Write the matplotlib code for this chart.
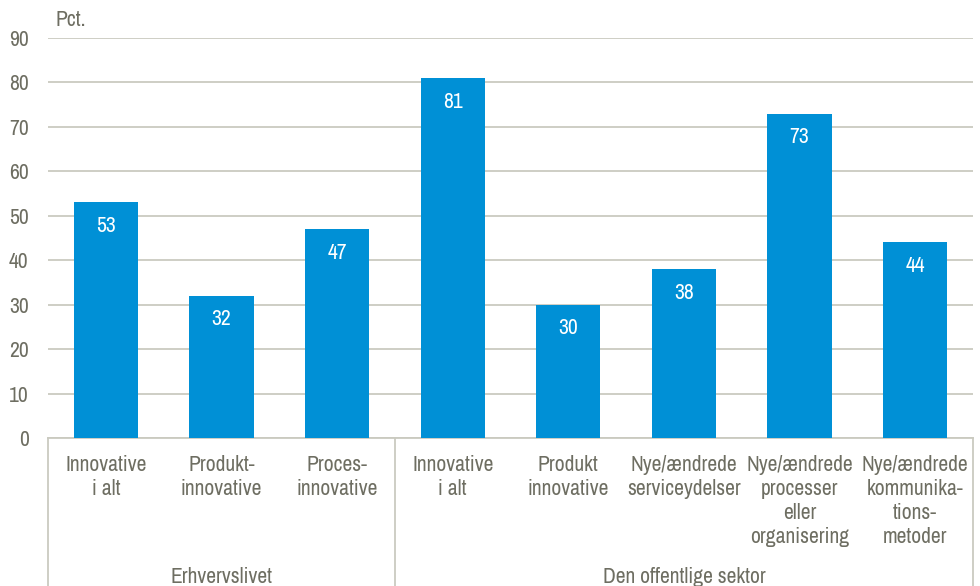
import matplotlib.pyplot as plt
from matplotlib.transforms import blended_transform_factory

# innovation shares, business sector vs public sector
labels = ['Innovative\ni alt', 'Produkt-\ninnovative', 'Proces-\ninnovative',
          'Innovative\ni alt', 'Produkt\ninnovative', 'Nye/ændrede\nserviceydelser',
          'Nye/ændrede\nprocesser\neller\norganisering',
          'Nye/ændrede\nkommunika-\ntions-\nmetoder']
values = [53, 32, 47, 81, 30, 38, 73, 44]
groups = ['Erhvervslivet', 'Den offentlige sektor']
group_sizes = [3, 5]

plt.rcParams['font.family'] = ['Archivo Narrow', 'Liberation Sans', 'DejaVu Sans']

bar_color = '#0090D6'
text_color = '#6E6E62'
grid_color = '#CACAC0'
fs = 15.5

fig = plt.figure(figsize=(9.8, 5.86), dpi=100)
ax = fig.add_axes([48 / 980, 148 / 586, 925 / 980, 400 / 586])

x = list(range(len(values)))
ax.bar(x, values, width=0.555, color=bar_color, zorder=3)
for xi, v in zip(x, values):
    ax.annotate(str(v), (xi, v), xytext=(0, -17), textcoords='offset points',
                ha='center', va='center', color='white', fontsize=fs, zorder=4)

ax.set_xlim(-0.5, len(values) - 0.5)
ax.set_ylim(0, 90)
ax.set_yticks(range(0, 91, 10))
ax.yaxis.grid(True, color=grid_color, linewidth=1.3, zorder=0)
ax.tick_params(axis='y', length=0, pad=14, labelsize=fs, labelcolor=text_color)
ax.set_xticks([])
for side in ['top', 'right', 'left']:
    ax.spines[side].set_visible(False)
ax.spines['bottom'].set_color(grid_color)
ax.spines['bottom'].set_linewidth(1.3)

trans = blended_transform_factory(ax.transData, ax.transAxes)
for xi, lab in zip(x, labels):
    ax.text(xi, -0.042, lab, transform=trans, ha='center', va='top',
            fontsize=fs, color=text_color, linespacing=1.26)

# group separators and group names
start = -0.5
ax.plot([start, start], [0, -0.4], transform=trans, color=grid_color,
        linewidth=1.3, clip_on=False)
for name, size in zip(groups, group_sizes):
    end = start + size
    ax.plot([end, end], [0, -0.4], transform=trans, color=grid_color,
            linewidth=1.3, clip_on=False)
    ax.text((start + end) / 2, -0.348, name, transform=trans, ha='center',
            va='center', fontsize=fs, color=text_color)
    start = end

fig.text(55 / 980, 1 - 20 / 586, 'Pct.', ha='left', va='center',
         fontsize=fs, color=text_color)

fig.savefig('out.png', dpi=100)
